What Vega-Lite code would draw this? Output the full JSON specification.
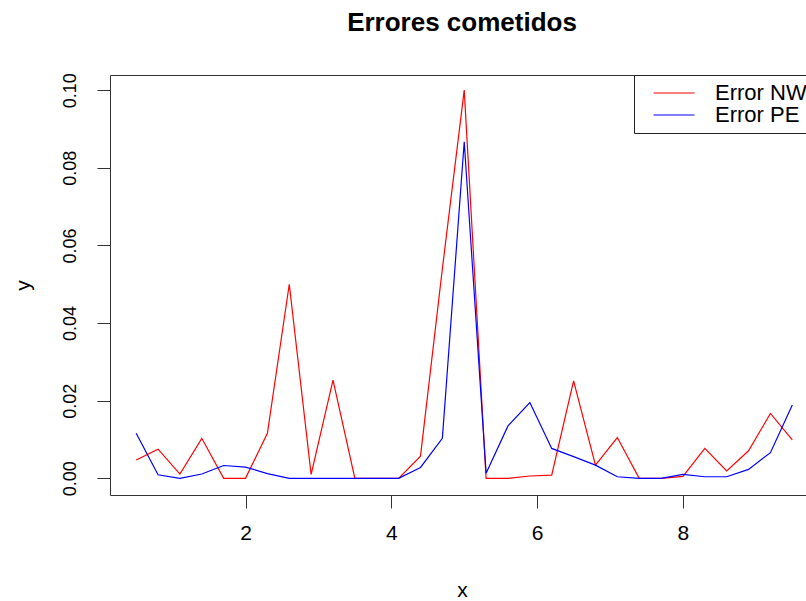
{
  "$schema": "https://vega.github.io/schema/vega-lite/v6.json",
  "autosize": "none",
  "width": 696,
  "height": 420,
  "padding": {"left": 110, "top": 75, "right": 0, "bottom": 106},
  "background": "white",
  "title": {"text": "Errores cometidos", "font": "Liberation Sans", "fontSize": 26, "fontWeight": "bold", "color": "#000", "baseline": "alphabetic", "offset": 16, "anchor": "middle", "dx": 4},
  "data": {"values": [
    {"x": 0.5, "y": 0.0047, "serie": "Error NW"},
    {"x": 0.8, "y": 0.0075, "serie": "Error NW"},
    {"x": 1.1, "y": 0.0011, "serie": "Error NW"},
    {"x": 1.4, "y": 0.0103, "serie": "Error NW"},
    {"x": 1.7, "y": 0.0, "serie": "Error NW"},
    {"x": 2.0, "y": 0.0, "serie": "Error NW"},
    {"x": 2.3, "y": 0.0116, "serie": "Error NW"},
    {"x": 2.6, "y": 0.05, "serie": "Error NW"},
    {"x": 2.9, "y": 0.001, "serie": "Error NW"},
    {"x": 3.2, "y": 0.0253, "serie": "Error NW"},
    {"x": 3.5, "y": 0.0, "serie": "Error NW"},
    {"x": 3.8, "y": 0.0, "serie": "Error NW"},
    {"x": 4.1, "y": 0.0, "serie": "Error NW"},
    {"x": 4.4, "y": 0.0057, "serie": "Error NW"},
    {"x": 4.7, "y": 0.054, "serie": "Error NW"},
    {"x": 5.0, "y": 0.1, "serie": "Error NW"},
    {"x": 5.3, "y": 0.0, "serie": "Error NW"},
    {"x": 5.6, "y": 0.0, "serie": "Error NW"},
    {"x": 5.9, "y": 0.0006, "serie": "Error NW"},
    {"x": 6.2, "y": 0.0008, "serie": "Error NW"},
    {"x": 6.5, "y": 0.0251, "serie": "Error NW"},
    {"x": 6.8, "y": 0.0034, "serie": "Error NW"},
    {"x": 7.1, "y": 0.0105, "serie": "Error NW"},
    {"x": 7.4, "y": 0.0, "serie": "Error NW"},
    {"x": 7.7, "y": 0.0, "serie": "Error NW"},
    {"x": 8.0, "y": 0.0005, "serie": "Error NW"},
    {"x": 8.3, "y": 0.0077, "serie": "Error NW"},
    {"x": 8.6, "y": 0.0019, "serie": "Error NW"},
    {"x": 8.9, "y": 0.0071, "serie": "Error NW"},
    {"x": 9.2, "y": 0.0167, "serie": "Error NW"},
    {"x": 9.5, "y": 0.0099, "serie": "Error NW"},
    {"x": 0.5, "y": 0.0116, "serie": "Error PE"},
    {"x": 0.8, "y": 0.0009, "serie": "Error PE"},
    {"x": 1.1, "y": 0.0, "serie": "Error PE"},
    {"x": 1.4, "y": 0.0011, "serie": "Error PE"},
    {"x": 1.7, "y": 0.0033, "serie": "Error PE"},
    {"x": 2.0, "y": 0.0029, "serie": "Error PE"},
    {"x": 2.3, "y": 0.0012, "serie": "Error PE"},
    {"x": 2.6, "y": 0.0, "serie": "Error PE"},
    {"x": 2.9, "y": 0.0, "serie": "Error PE"},
    {"x": 3.2, "y": 0.0, "serie": "Error PE"},
    {"x": 3.5, "y": 0.0, "serie": "Error PE"},
    {"x": 3.8, "y": 0.0, "serie": "Error PE"},
    {"x": 4.1, "y": 0.0, "serie": "Error PE"},
    {"x": 4.4, "y": 0.0028, "serie": "Error PE"},
    {"x": 4.7, "y": 0.0103, "serie": "Error PE"},
    {"x": 5.0, "y": 0.0867, "serie": "Error PE"},
    {"x": 5.3, "y": 0.0013, "serie": "Error PE"},
    {"x": 5.6, "y": 0.0135, "serie": "Error PE"},
    {"x": 5.9, "y": 0.0195, "serie": "Error PE"},
    {"x": 6.2, "y": 0.0077, "serie": "Error PE"},
    {"x": 6.5, "y": 0.0056, "serie": "Error PE"},
    {"x": 6.8, "y": 0.0034, "serie": "Error PE"},
    {"x": 7.1, "y": 0.0004, "serie": "Error PE"},
    {"x": 7.4, "y": 0.0, "serie": "Error PE"},
    {"x": 7.7, "y": 0.0, "serie": "Error PE"},
    {"x": 8.0, "y": 0.001, "serie": "Error PE"},
    {"x": 8.3, "y": 0.0004, "serie": "Error PE"},
    {"x": 8.6, "y": 0.0004, "serie": "Error PE"},
    {"x": 8.9, "y": 0.0023, "serie": "Error PE"},
    {"x": 9.2, "y": 0.0066, "serie": "Error PE"},
    {"x": 9.5, "y": 0.0189, "serie": "Error PE"}
  ]},
  "layer": [
    {
      "mark": {"type": "line", "strokeWidth": 1.2},
      "encoding": {
        "x": {"field": "x", "type": "quantitative", "scale": {"domain": [0.141, 9.688], "nice": false, "zero": false},
          "axis": {"orient": "bottom", "values": [2, 4, 6, 8], "title": "x", "titleX": 352, "titlePadding": 36}},
        "y": {"field": "y", "type": "quantitative", "scale": {"domain": [-0.0043, 0.1039], "nice": false, "zero": false},
          "axis": {"values": [0, 0.02, 0.04, 0.06, 0.08, 0.1], "format": ".2f", "title": "y", "labelAngle": -90, "labelAlign": "center", "labelBaseline": "bottom", "labelPadding": 18, "labelFontSize": 18, "titlePadding": 28}},
        "color": {"field": "serie", "type": "nominal", "scale": {"domain": ["Error NW", "Error PE"], "range": ["#ff0000", "#0000ff"]},
          "legend": {"orient": "none", "legendX": 524, "legendY": 0, "title": null, "symbolType": "M-2,0H2", "symbolSize": 420, "symbolStrokeWidth": 1.2, "labelFontSize": 22, "labelFont": "Liberation Sans", "labelColor": "#000", "strokeColor": "#222", "fillColor": "white", "padding": 7, "rowPadding": -7, "labelOffset": 30, "symbolOffset": 22}}
      }
    },
    {
      "mark": {"type": "line", "strokeOpacity": 0},
      "encoding": {
        "x": {"field": "x", "type": "quantitative", "axis": {"orient": "top", "labels": false, "ticks": false, "title": null, "domain": true}},
        "y": {"field": "y", "type": "quantitative"},
        "detail": {"field": "serie"}
      }
    }
  ],
  "resolve": {"axis": {"x": "independent"}},
  "config": {
    "view": {"stroke": null},
    "axis": {"grid": false, "domainColor": "#333", "domainWidth": 1, "tickColor": "#333", "tickSize": 13, "tickWidth": 1,
      "labelFont": "Liberation Sans", "labelFontSize": 21, "labelColor": "#000", "labelPadding": 14,
      "titleFont": "Liberation Sans", "titleFontSize": 21, "titleFontWeight": "normal", "titleColor": "#000"}
  }
}
